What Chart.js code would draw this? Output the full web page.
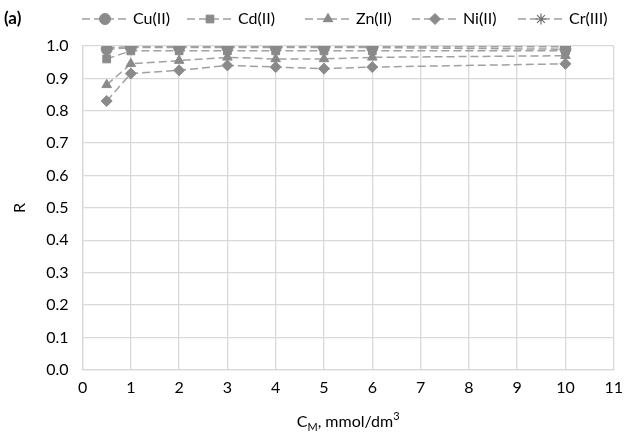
<!DOCTYPE html>
<html>
<head>
<meta charset="utf-8">
<script src="https://cdn.jsdelivr.net/npm/chart.js@4/dist/chart.umd.min.js"></script>
<style>
  html, body { margin: 0; padding: 0; background: #fff; }
  #wrap { width: 631px; height: 439px; }
</style>
</head>
<body>
<div id="wrap"><canvas id="myChart1" width="631" height="439"></canvas></div>
<script>
const xVals = [0.5, 1, 2, 3, 4, 5, 6, 10];
const cuVals = [0.99, 0.995, 0.995, 0.995, 0.995, 0.995, 0.995, 0.99];
const cdVals = [0.96, 0.985, 0.985, 0.985, 0.985, 0.985, 0.985, 0.985];
const znVals = [0.88, 0.945, 0.955, 0.965, 0.96, 0.96, 0.965, 0.97];
const niVals = [0.83, 0.915, 0.925, 0.94, 0.935, 0.93, 0.935, 0.945];
const crVals = [0.995, 0.998, 0.998, 0.998, 0.998, 0.998, 0.998, 0.998];
const seriesNames = ['Cu(II)', 'Cd(II)', 'Zn(II)', 'Ni(II)', 'Cr(III)'];
const seriesStyles = ['circle', 'rect', 'triangle', 'rectRot', 'star'];

const FONT = 'Lato, "Open Sans", sans-serif';
const lineCol = '#a0a0a0';
const markCol = '#8a8a8a';

function pts(vals) {
    return vals.map((v, i) => ({ x: xVals[i], y: v }));
}

const allVals = [cuVals, cdVals, znVals, niVals, crVals];
const sets = allVals.map((vals, i) => {
    const star = seriesStyles[i] === 'star';
    return {
        label: seriesNames[i],
        data: pts(vals),
        borderColor: lineCol,
        borderWidth: 1.5,
        borderDash: [8, 4],
        pointStyle: seriesStyles[i],
        pointRadius: 5.5,
        pointBackgroundColor: markCol,
        pointBorderColor: star ? '#6e6e6e' : markCol,
        pointBorderWidth: star ? 1.2 : 1,
        fill: false,
        tension: 0
    };
});

// legend + axis title drawn by hand (dashed line sample with marker, sub/superscripts)
const extras = {
    id: 'extras',
    afterDraw(chart) {
        const ctx = chart.ctx;
        ctx.save();
        ctx.fillStyle = '#000';
        ctx.font = 'bold 17px ' + FONT;
        ctx.textBaseline = 'middle';
        ctx.textAlign = 'left';
        ctx.fillText('(a)', 4, 19);

        const legX = [82, 187, 305, 412, 518];
        ctx.font = '16px ' + FONT;
        chart.data.datasets.forEach((ds, i) => {
            const x0 = legX[i];
            const y = 19;
            ctx.strokeStyle = lineCol;
            ctx.lineWidth = 1.5;
            ctx.setLineDash([8, 4]);
            ctx.beginPath();
            ctx.moveTo(x0, y);
            ctx.lineTo(x0 + 46, y);
            ctx.stroke();
            ctx.setLineDash([]);
            ctx.fillStyle = markCol;
            ctx.strokeStyle = ds.pointBorderColor;
            ctx.lineWidth = ds.pointBorderWidth;
            Chart.helpers.drawPoint(ctx, { pointStyle: ds.pointStyle, radius: 5.5, borderWidth: ds.pointBorderWidth }, x0 + 23, y);
            ctx.fillStyle = '#000';
            ctx.fillText(ds.label, x0 + 51, y);
        });

        // x axis title: C_M, mmol/dm^3
        const cx = (chart.chartArea.left + chart.chartArea.right) / 2;
        const ty = 422;
        const parts = [
            { t: 'C', f: '16px ', dy: 0 },
            { t: 'M', f: '11px ', dy: 5 },
            { t: ', mmol/dm', f: '16px ', dy: 0 },
            { t: '3', f: '11px ', dy: -6 }
        ];
        let w = 0;
        parts.forEach(p => { ctx.font = p.f + FONT; w += ctx.measureText(p.t).width; });
        let x = cx - w / 2;
        ctx.textAlign = 'left';
        parts.forEach(p => {
            ctx.font = p.f + FONT;
            ctx.fillText(p.t, x, ty + p.dy);
            x += ctx.measureText(p.t).width;
        });
        ctx.restore();
    }
};

new Chart(document.getElementById('myChart1'), {
    type: 'line',
    data: { datasets: sets },
    options: {
        responsive: false,
        animation: false,
        layout: { padding: { top: 46, right: 8, bottom: 34, left: 6 } },
        plugins: {
            legend: { display: false },
            tooltip: { enabled: false }
        },
        scales: {
            x: {
                type: 'linear',
                min: 0,
                max: 11,
                ticks: { stepSize: 1, color: '#000', font: { family: FONT, size: 16 }, padding: 8 },
                grid: { color: '#d9d9d9', lineWidth: 1.3, drawTicks: false },
                border: { color: '#d9d9d9', width: 1.3 }
            },
            y: {
                min: 0,
                max: 1,
                ticks: {
                    stepSize: 0.1,
                    color: '#000',
                    font: { family: FONT, size: 16 },
                    padding: 14,
                    callback: v => v.toFixed(1)
                },
                grid: { color: '#d9d9d9', lineWidth: 1.3, drawTicks: false },
                border: { color: '#d9d9d9', width: 1.3 },
                title: { display: true, text: 'R', color: '#000', font: { family: FONT, size: 16 }, padding: { top: 4, bottom: 3 } }
            }
        }
    },
    plugins: [extras]
});
</script>
</body>
</html>
